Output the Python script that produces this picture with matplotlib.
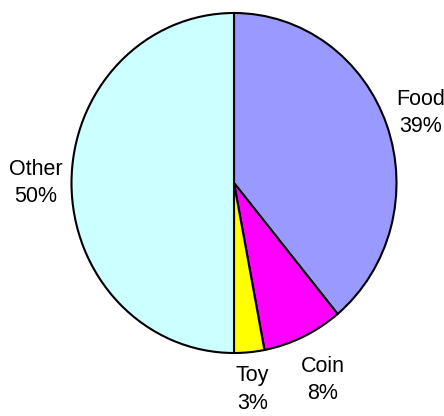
import numpy as np
import matplotlib
matplotlib.use('Agg')
import matplotlib.pyplot as plt

## data
labels = ['Food', 'Coin', 'Toy', 'Other']
values = [39, 8, 3, 50]
colors = ['#9999FF', '#FF00FF', '#FFFF00', '#CCFFFF']

plt.rcParams['font.family'] = ['Liberation Sans', 'DejaVu Sans']

fig = plt.figure(figsize=(4.44, 4.16), dpi=100)
ax = fig.add_axes([0, 0, 1, 1])

wedges, _ = ax.pie(values, colors=colors, startangle=90, counterclock=False,
                   wedgeprops=dict(edgecolor='black', linewidth=1.5))

## pie is a bit taller than wide in the reference
ax.set_aspect('auto')
ax.set_xlim(-234 / 162.5, (444 - 234) / 162.5)
ax.set_ylim(-(416 - 183) / 170., 183 / 170.)

total = float(sum(values))
label_r = {'Coin': 1.28, 'Toy': 1.22}
for w, lab, v in zip(wedges, labels, values):
    ang = np.deg2rad((w.theta1 + w.theta2) / 2.)
    r = label_r.get(lab, 1.22)
    ax.text(r * np.cos(ang), r * np.sin(ang),
            '%s\n%d%%' % (lab, round(100 * v / total)),
            ha='center', va='center', fontsize=15.5, linespacing=1.4)

ax.axis('off')
fig.savefig('out.png', dpi=100)
